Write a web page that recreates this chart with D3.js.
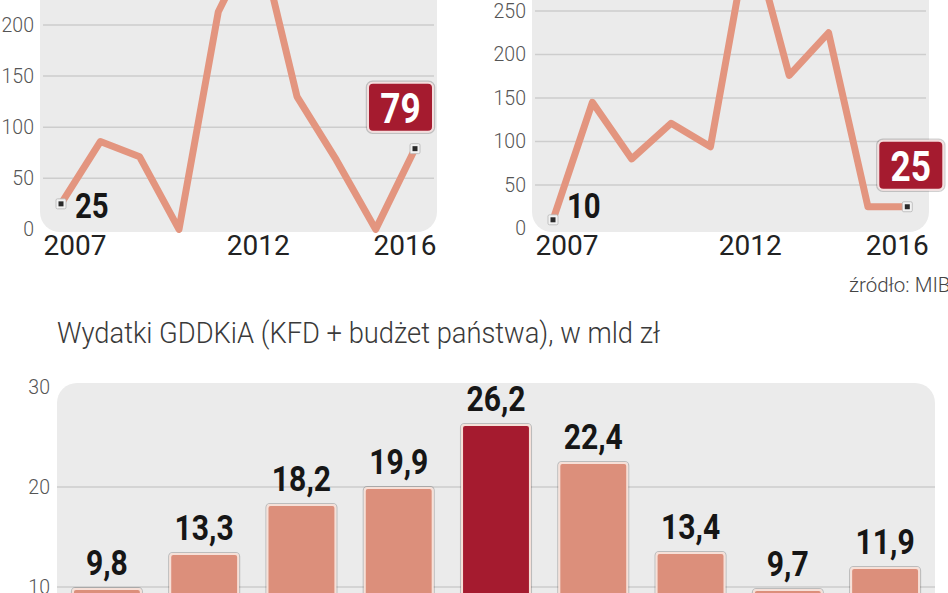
<!DOCTYPE html>
<html>
<head>
<meta charset="utf-8">
<script src="https://cdn.jsdelivr.net/npm/d3@7"></script>
<style>
  html, body { margin: 0; padding: 0; background: #fff; }
  svg { display: block; }
</style>
</head>
<body>
<svg id="chart" width="948" height="593"></svg>
<script>
// ---------- DATA ----------
const years = [2007, 2008, 2009, 2010, 2011, 2012, 2013, 2014, 2015, 2016];
const leftValues = [25, 86, 71, 0, 213, 290, 130, 68, 0, 79];
const rightValues = [10, 145, 80, 121, 94, 345, 176, 225, 25, 25];
const leftTicks = [0, 50, 100, 150, 200];
const rightTicks = [0, 50, 100, 150, 200, 250];
const xTickYears = [2007, 2012, 2016];

const barCategories = ["2008", "2009", "2010", "2011", "2012", "2013", "2014", "2015", "2016"];
const barValues = [9.8, 13.3, 18.2, 19.9, 26.2, 22.4, 13.4, 9.7, 11.9];
const barTicks = [0, 10, 20, 30];
const highlightCategory = "2012";

const titleText = "Wydatki GDDKiA (KFD + budżet państwa), w mld zł";
const sourceText = "źródło: MIB";

// ---------- STYLE ----------
const PANEL = "#ebebeb";
const GRID = "#cdcdcd";
const LINE = "#e3957f";
const BAR = "#dc8f7b";
const DARK = "#a51b2f";
const TICK = "#555";
const FONT = "Roboto, 'Liberation Sans', Arial, sans-serif";

const locale = d3.formatLocale({ decimal: ",", thousands: " ", grouping: [3], currency: ["", " zł"] });
const fmt1 = locale.format(".1f");

const svg = d3.select("#chart");

// ---------- LINE CHARTS ----------
function lineChart(cfg) {
  const g = svg.append("g");
  const x = d3.scaleLinear().domain([years[0], years[years.length - 1]]).range(cfg.xRange);
  const y = d3.scaleLinear().domain([0, cfg.refVal]).range([cfg.zeroY, cfg.refY]);

  // panel
  g.append("rect")
    .attr("x", cfg.panel[0]).attr("y", -60)
    .attr("width", cfg.panel[1] - cfg.panel[0]).attr("height", cfg.panelBottom + 60)
    .attr("rx", 20).attr("fill", PANEL);

  // gridlines
  g.selectAll(".grid").data(cfg.ticks.filter(t => t > 0)).join("line")
    .attr("x1", cfg.panel[0] + 3).attr("x2", cfg.panel[1] - 3)
    .attr("y1", d => y(d)).attr("y2", d => y(d))
    .attr("stroke", GRID).attr("stroke-width", 1.5);

  // y axis
  const yAxis = g.append("g")
    .attr("transform", `translate(${cfg.tickRight},0)`)
    .call(d3.axisLeft(y).tickValues(cfg.ticks).tickSize(0).tickPadding(0));
  yAxis.select(".domain").remove();
  yAxis.selectAll("text")
    .attr("fill", TICK).attr("font-size", 19.5).attr("font-family", FONT).attr("font-weight", 300);

  // x axis
  const xAxis = g.append("g")
    .attr("transform", `translate(0,${cfg.zeroY})`)
    .call(d3.axisBottom(x).tickValues(xTickYears).tickSize(0).tickPadding(0).tickFormat(d3.format("d")));
  xAxis.select(".domain").remove();
  xAxis.selectAll("text")
    .attr("fill", "#222").attr("font-size", 28).attr("font-family", FONT).attr("font-weight", 400)
    .attr("dy", null).attr("y", 26)
    .attr("text-anchor", (d, i, n) => i === 0 ? "start" : (i === n.length - 1 ? "end" : "middle"))
    .attr("x", (d, i, n) => i === 0 ? -18 : (i === n.length - 1 ? 21 : 0));

  // line
  const pts = years.map((yr, i) => [x(yr), y(cfg.values[i])]);
  g.append("path")
    .attr("d", d3.line()(pts))
    .attr("fill", "none").attr("stroke", LINE).attr("stroke-width", 7)
    .attr("stroke-linejoin", "round").attr("stroke-linecap", "round");

  // markers
  [pts[0], pts[pts.length - 1]].forEach(p => {
    g.append("rect").attr("x", p[0] - 5).attr("y", p[1] - 5).attr("width", 10).attr("height", 10)
      .attr("rx", 1.5)
      .attr("fill", "#f2f2f2").attr("stroke", "#b5b5b5").attr("stroke-width", 0.8);
    g.append("rect").attr("x", p[0] - 2.5).attr("y", p[1] - 2.5).attr("width", 5).attr("height", 5)
      .attr("fill", "#2a2a2a");
  });

  // first value label
  const p0 = pts[0];
  g.append("text")
    .attr("transform", `translate(${p0[0] + 14},${y(0) - 11}) scale(0.84,1)`)
    .attr("font-family", FONT).attr("font-weight", 700).attr("font-size", 35)
    .attr("fill", "#161616").text(cfg.values[0]);

  // last value box
  const pl = pts[pts.length - 1];
  const bw = 65, bh = 49;
  const bx = pl[0] + cfg.boxDx, by = pl[1] - 17 - bh;
  g.append("rect").attr("x", bx - 1.5).attr("y", by - 1.5).attr("width", bw + 3).attr("height", bh + 3)
    .attr("rx", 6).attr("fill", "none").attr("stroke", "rgba(0,0,0,0.18)").attr("stroke-width", 1.5);
  g.append("rect").attr("x", bx).attr("y", by).attr("width", bw).attr("height", bh)
    .attr("rx", 5).attr("fill", DARK).attr("stroke", "#f4dede").attr("stroke-width", 2);
  g.append("text")
    .attr("transform", `translate(${bx + bw / 2},${by + bh - 9}) scale(0.84,1)`)
    .attr("text-anchor", "middle")
    .attr("font-family", FONT).attr("font-weight", 700).attr("font-size", 42)
    .attr("fill", "#fff").text(cfg.values[cfg.values.length - 1]);
}

lineChart({
  values: leftValues, ticks: leftTicks,
  xRange: [61, 415], panel: [40, 437], panelBottom: 232,
  zeroY: 229.4, refVal: 200, refY: 25,
  tickRight: 34, boxDx: -47
});
lineChart({
  values: rightValues, ticks: rightTicks,
  xRange: [553, 907.3], panel: [532, 929], panelBottom: 232,
  zeroY: 228.5, refVal: 250, refY: 11,
  tickRight: 526, boxDx: -29
});

// source
svg.append("text")
  .attr("x", 849).attr("y", 292)
  .attr("font-family", FONT).attr("font-weight", 300).attr("font-size", 20.5)
  .attr("fill", "#444").text(sourceText);

// ---------- BAR CHART ----------
const bg = svg.append("g");
bg.append("text")
  .attr("x", 57).attr("y", 343)
  .attr("font-family", FONT).attr("font-weight", 300).attr("font-size", 29)
  .attr("fill", "#3a3a3a")
  .attr("textLength", 603).attr("lengthAdjust", "spacingAndGlyphs")
  .text(titleText);

const bx = d3.scaleBand().domain(barCategories).range([57, 935]).paddingInner(0.302).paddingOuter(0.164);
const by = d3.scaleLinear().domain([0, 30]).range([687, 387]);

bg.append("rect").attr("x", 57).attr("y", 383).attr("width", 878).attr("height", 400)
  .attr("rx", 20).attr("fill", PANEL);

bg.selectAll(".bgrid").data(barTicks.filter(t => t > 0 && t < 30)).join("line")
  .attr("x1", 57).attr("x2", 935)
  .attr("y1", d => by(d)).attr("y2", d => by(d))
  .attr("stroke", GRID).attr("stroke-width", 1.5);

const bAxis = bg.append("g").attr("transform", "translate(50,0)")
  .call(d3.axisLeft(by).tickValues(barTicks).tickSize(0).tickPadding(0));
bAxis.select(".domain").remove();
bAxis.selectAll("text")
  .attr("fill", TICK).attr("font-size", 19.5).attr("font-family", FONT).attr("font-weight", 300);

// bar shadows
bg.selectAll(".bshadow").data(barValues).join("rect")
  .attr("x", (d, i) => bx(barCategories[i]) - 1.5)
  .attr("y", d => by(d) - 1.5)
  .attr("width", bx.bandwidth() + 3)
  .attr("height", d => by(0) - by(d) + 3)
  .attr("rx", 4).attr("fill", "none").attr("stroke", "rgba(0,0,0,0.2)").attr("stroke-width", 1.2);

bg.selectAll(".bar").data(barValues).join("rect")
  .attr("x", (d, i) => bx(barCategories[i]))
  .attr("y", d => by(d))
  .attr("width", bx.bandwidth())
  .attr("height", d => by(0) - by(d))
  .attr("rx", 3)
  .attr("fill", (d, i) => barCategories[i] === highlightCategory ? DARK : BAR)
  .attr("stroke", "#f6e0d8").attr("stroke-width", 2);

bg.selectAll(".blabel").data(barValues).join("text")
  .attr("transform", (d, i) => `translate(${bx(barCategories[i]) + bx.bandwidth() / 2},${by(d) - 14}) scale(0.86,1)`)
  .attr("text-anchor", "middle")
  .attr("font-family", FONT).attr("font-weight", 700).attr("font-size", 35)
  .attr("fill", "#161616")
  .text(d => fmt1(d));
</script>
</body>
</html>
